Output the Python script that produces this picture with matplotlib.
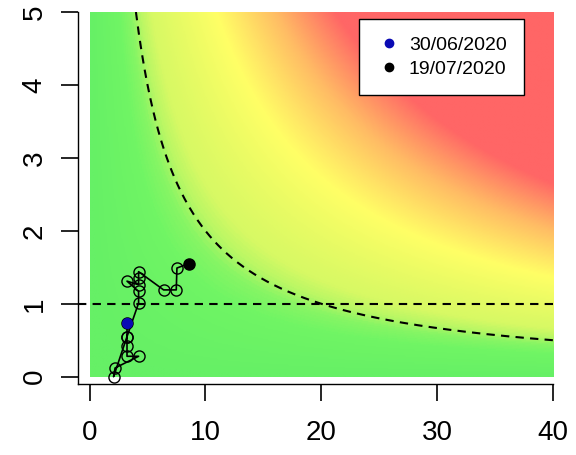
import numpy as np
import matplotlib
matplotlib.use("Agg")
import matplotlib.pyplot as plt
from matplotlib.colors import LinearSegmentedColormap
from matplotlib.lines import Line2D

plt.rcParams['font.family'] = ['Liberation Sans', 'DejaVu Sans']

# trajectory data (attack rate vs. rho)
xs = [3.23, 3.23, 3.23, 3.23, 4.23, 2.20, 2.07, 3.23, 4.23, 4.23, 3.23, 4.23, 4.23, 4.23, 6.39, 7.48, 7.54, 8.55]
ys = [0.73, 0.55, 0.42, 0.28, 0.28, 0.12, 0.00, 0.55, 1.01, 1.17, 1.31, 1.26, 1.35, 1.44, 1.19, 1.19, 1.49, 1.55]
legend_labels = ["30/06/2020", "19/07/2020"]
xticks = [0, 10, 20, 30, 40]
yticks = [0, 1, 2, 3, 4, 5]
threshold = 20

fig = plt.figure(figsize=(5.76, 4.55), dpi=100)
ax = fig.add_axes([78/576, 71/455, (553-78)/576, (384-12)/455])

# background gradient as a function of x*y
stops = [(0, (102, 240, 102)), (12, (112, 245, 100)), (17, (135, 245, 100)),
         (21, (185, 247, 100)), (26, (215, 249, 100)), (38, (232, 251, 100)),
         (54, (255, 255, 102)), (80, (255, 188, 100)), (106, (255, 102, 102)),
         (220, (255, 102, 102))]
vmax = stops[-1][0]
cmap = LinearSegmentedColormap.from_list(
    "risk", [(s / vmax, tuple(c / 255 for c in col)) for s, col in stops])
gx = np.linspace(0, 40, 400)
gy = np.linspace(0, 5, 300)
GX, GY = np.meshgrid(gx, gy)
ax.imshow(GX * GY, extent=[0, 40, 0, 5], origin='lower', cmap=cmap,
          vmin=0, vmax=vmax, aspect='auto', interpolation='bilinear', zorder=0)

# reference lines
ax.axhline(1, color='black', lw=1.5, ls=(0, (4, 3)), zorder=2)
hx = np.linspace(threshold / 5, 40, 300)
ax.plot(hx, threshold / hx, color='black', lw=1.5, ls=(0, (4, 3)), zorder=2)

# trajectory
ax.plot(xs, ys, color='black', lw=1.2, zorder=3)
ax.plot(xs, ys, 'o', mfc='none', mec='black', ms=8, mew=1.0, zorder=4)
ax.plot(xs[0], ys[0], 'o', color='#0a0ab4', ms=7, zorder=5)
ax.plot(xs[-1], ys[-1], 'o', color='black', ms=7, zorder=5)

ax.set_xlim(-1, 40)
ax.set_ylim(-0.1, 5)
ax.set_xticks(xticks)
ax.set_yticks(yticks)
ax.tick_params(axis='both', direction='out', length=12, width=1.2, labelsize=20)
ax.tick_params(axis='x', pad=14)
ax.tick_params(axis='y', pad=10)
for lab in ax.get_yticklabels():
    lab.set_rotation(90)
    lab.set_va('center')
for s in ['top', 'right']:
    ax.spines[s].set_visible(False)
for s in ['left', 'bottom']:
    ax.spines[s].set_linewidth(1.0)

handles = [Line2D([], [], marker='o', ls='none', color='#0a0ab4', ms=6),
           Line2D([], [], marker='o', ls='none', color='black', ms=6)]
leg = ax.legend(handles, legend_labels, loc='upper right',
                bbox_to_anchor=(524/576, (455-19)/455), bbox_transform=fig.transFigure,
                fancybox=False, framealpha=1, edgecolor='black', fontsize=14,
                handletextpad=0.35, borderpad=0.9, labelspacing=0.3, handlelength=1.3,
                borderaxespad=0)
leg.get_frame().set_linewidth(1.0)

fig.savefig("out.png", dpi=100)
